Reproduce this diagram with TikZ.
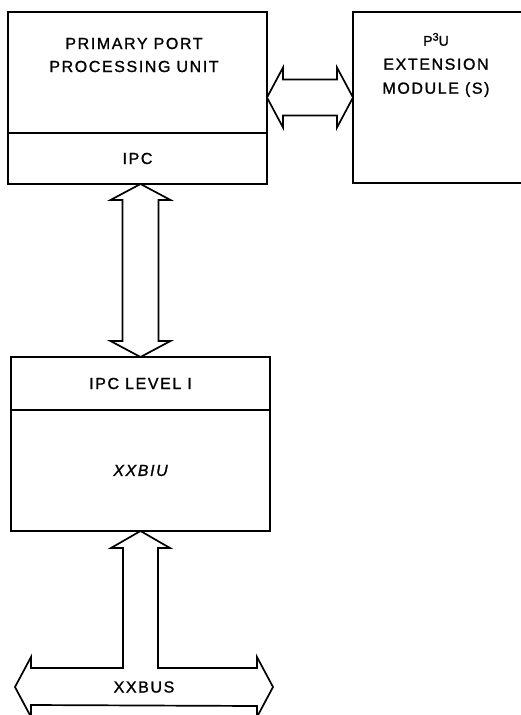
\documentclass[tikz,border=0pt]{standalone}
\usepackage{fontspec}
\setmainfont{Liberation Sans}[LetterSpace=10, FakeBold=1.2]
\usetikzlibrary{calc,positioning}
\tikzset{
unitbox/.style={draw, line width=1.7pt, inner sep=0pt, outer sep=0pt, minimum width=259pt, font=\fontsize{16}{24}\selectfont},
boxlabel/.style={align=center, inner sep=0pt, font=\fontsize{16}{24}\selectfont},
fatlink/.style={draw, line width=1.7pt, line join=miter, to path={
  -- ($(\tikztostart)!16pt!(\tikztotarget)!30pt!90:(\tikztotarget)$)
  -- ($(\tikztostart)!16pt!(\tikztotarget)!18pt!90:(\tikztotarget)$)
  -- ($(\tikztotarget)!16pt!(\tikztostart)!18pt!-90:(\tikztostart)$)
  -- ($(\tikztotarget)!16pt!(\tikztostart)!30pt!-90:(\tikztostart)$)
  -- (\tikztotarget)
  -- ($(\tikztotarget)!16pt!(\tikztostart)!30pt!90:(\tikztostart)$)
  -- ($(\tikztotarget)!16pt!(\tikztostart)!18pt!90:(\tikztostart)$)
  -- ($(\tikztostart)!16pt!(\tikztotarget)!18pt!-90:(\tikztotarget)$)
  -- ($(\tikztostart)!16pt!(\tikztotarget)!30pt!-90:(\tikztotarget)$)
  -- cycle}},
busline/.style={draw, line width=1.7pt, line join=miter}
}

\begin{document}
\begin{tikzpicture}[x=1pt,y=-1pt]
\useasboundingbox (0,0) rectangle (521,715);

\node[unitbox, minimum height=121pt] (ppu) at (137.5,72.5) {};
\node[unitbox, minimum height=51pt, below=0pt of ppu] (ipc) {IPC};
\node[boxlabel, font=\fontsize{16}{23}\selectfont] (pputext) at (134,55) {PRIMARY PORT\\PROCESSING UNIT};

\node[unitbox, minimum width=169pt, minimum height=171pt] (p3u) at (437.5,97.5) {};
\node[boxlabel] (p3utext) at (436,65) {{\fontsize{14}{24}\selectfont P\raisebox{5pt}{\fontsize{11}{11}\selectfont 3}U}\\EXTENSION\\MODULE (S)};

\node[unitbox, minimum height=53pt] (lvl) at (140.5,383.5) {IPC LEVEL I};
\node[unitbox, minimum height=121pt, below=0pt of lvl] (biu) {\itshape XXBIU};

\draw[fatlink] (ppu.east |- p3u.west) to (p3u.west);
\draw[fatlink] (ipc.south -| lvl.north) to (lvl.north);

\coordinate (busleft) at (15,687);
\coordinate (busright) at (273,687);
\draw[busline] (busleft) -- ++(16,-30) -- ++(0,11) -| ($(biu.south)+(-17.5,17)$) -- ++(-12,0)
  -- (biu.south) -- ++(29.5,17) -- ++(-12,0) |- ($(busright)+(-16,-19)$) -- ++(0,-11)
  -- (busright) -- ++(-16,30) -- ++(0,-11) -- ($(busleft)+(16,18)$) -- ++(0,12) -- cycle;
\node[boxlabel] (bustext) at ($(busleft)!0.5!(busright)$) {XXBUS};
\end{tikzpicture}
\end{document}
